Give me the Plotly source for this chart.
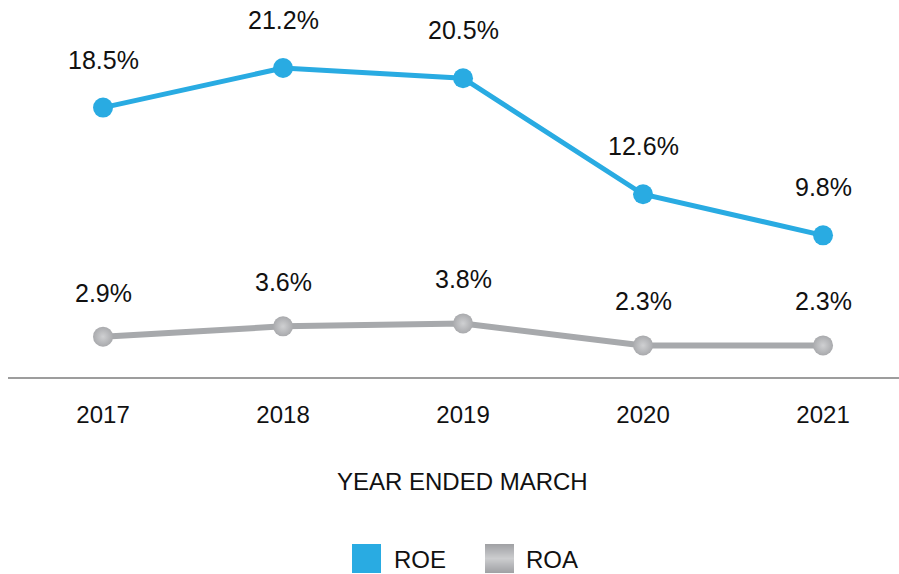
import plotly.graph_objects as go

years = [2017, 2018, 2019, 2020, 2021]
roe = [18.5, 21.2, 20.5, 12.6, 9.8]
roa = [2.9, 3.6, 3.8, 2.3, 2.3]
roe_labels = ["18.5%", "21.2%", "20.5%", "12.6%", "9.8%"]
roa_labels = ["2.9%", "3.6%", "3.8%", "2.3%", "2.3%"]

BLUE = "#29abe2"
GREY = "#a7a9ac"
FONT = "Liberation Sans, Arial, Helvetica, sans-serif"

fig = go.Figure()
fig.add_trace(go.Scatter(
    x=years, y=roe, mode="lines+markers", name="ROE",
    line=dict(color=BLUE, width=5),
    marker=dict(color=BLUE, size=20),
    showlegend=False, hoverinfo="skip"))
fig.add_trace(go.Scatter(
    x=years, y=roa, mode="lines+markers", name="ROA",
    line=dict(color=GREY, width=6),
    marker=dict(color="#a9aaad", size=20,
                gradient=dict(type="radial", color="#cfd0d2")),
    showlegend=False, hoverinfo="skip"))

anns = []
for x, y, t in zip(years, roe, roe_labels):
    anns.append(dict(x=x, y=y, text=t, showarrow=False, yshift=48,
                     font=dict(size=25, color="#111111", family=FONT)))
for x, y, t in zip(years, roa, roa_labels):
    anns.append(dict(x=x, y=y, text=t, showarrow=False, yshift=44,
                     font=dict(size=25, color="#111111", family=FONT)))

# page-pixel -> paper coordinate helpers (plot area: x 8..899, y 10..377 on page)
def px_x(X):
    return (X - 8) / 891

def px_y(Y):
    return (377 - Y) / 367

# axis title
anns.append(dict(xref="paper", yref="paper", x=px_x(462), y=px_y(482),
                 text="YEAR ENDED MARCH", showarrow=False, xanchor="center", yanchor="middle",
                 font=dict(size=24, color="#111111", family=FONT)))

# legend (custom)
shapes = [
    dict(type="rect", xref="paper", yref="paper",
         x0=px_x(352), x1=px_x(381), y0=px_y(573), y1=px_y(544),
         fillcolor=BLUE, line=dict(width=0)),
]
# ROA swatch with a soft horizontal-band gradient (dark edges, light middle)
top, bot = 544, 573
n = bot - top
dark = (0x9f, 0xa0, 0xa3)
light = (0xcc, 0xcd, 0xcf)
for i in range(n):
    t = abs((i + 0.5) / n - 0.5) * 2  # 0 at middle, 1 at edges
    c = tuple(int(round(light[k] + (dark[k] - light[k]) * t)) for k in range(3))
    shapes.append(dict(type="rect", xref="paper", yref="paper",
                       x0=px_x(485), x1=px_x(514),
                       y0=px_y(top + i + 1.05), y1=px_y(top + i),
                       fillcolor="rgb(%d,%d,%d)" % c, line=dict(width=0)))
anns.append(dict(xref="paper", yref="paper", x=px_x(392), y=px_y(559), text="ROE",
                 showarrow=False, xanchor="left", yanchor="middle",
                 font=dict(size=24, color="#111111", family=FONT)))
anns.append(dict(xref="paper", yref="paper", x=px_x(524), y=px_y(559), text="ROA",
                 showarrow=False, xanchor="left", yanchor="middle",
                 font=dict(size=24, color="#111111", family=FONT)))

fig.update_layout(
    width=899, height=574,
    margin=dict(l=8, r=0, t=10, b=197),
    paper_bgcolor="white", plot_bgcolor="white",
    annotations=anns, shapes=shapes,
    xaxis=dict(range=[2016.472, 2021.422], tickmode="array", tickvals=years,
               ticktext=[str(y) for y in years],
               showline=True, linecolor="#9d9d9d", linewidth=1.5,
               showgrid=False, zeroline=False, ticks="",
               ticklabelstandoff=15,
               tickfont=dict(size=24, color="#111111", family=FONT)),
    yaxis=dict(range=[0.15, 25.15], visible=False, showgrid=False, zeroline=False),
)

fig.write_html(
    "out.html",
    config={"displayModeBar": False},
    post_script="document.body.style.margin='0';document.body.style.overflow='hidden';",
)
